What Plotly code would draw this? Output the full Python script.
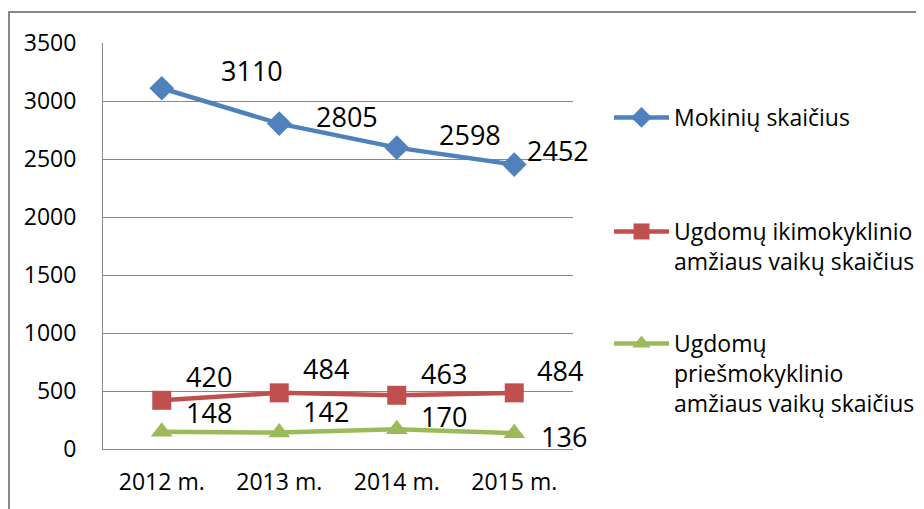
import plotly.graph_objects as go

categories = ["2012 m.", "2013 m.", "2014 m.", "2015 m."]
mokiniai = [3110, 2805, 2598, 2452]
ikimokyklinis = [420, 484, 463, 484]
priesmokyklinis = [148, 142, 170, 136]
y_ticks = [0, 500, 1000, 1500, 2000, 2500, 3000, 3500]

names = ["Mokinių skaičius",
         "Ugdomų ikimokyklinio<br>amžiaus vaikų skaičius",
         "Ugdomų<br>priešmokyklinio<br>amžiaus vaikų skaičius"]
colors = ["#4F81BD", "#C0504D", "#9BBB59"]
symbols = ["diamond", "square", "triangle-up"]
marker_sizes = [19, 19, 19]
series = [mokiniai, ikimokyklinis, priesmokyklinis]
legends = ["legend", "legend2", "legend3"]

# label offsets (pixels: right, up) per series / point
label_offsets = [
    [(90, 18), (68, 7), (73, 13), (44, 14)],
    [(47, 24), (47, 24), (47, 22), (46, 22)],
    [(47, 19), (47, 21), (47, 13), (50, -3)],
]

FONT = "Open Sans, sans-serif"

fig = go.Figure()
for vals, name, col, sym, ms, lg in zip(series, names, colors, symbols, marker_sizes, legends):
    fig.add_trace(go.Scatter(
        x=categories, y=vals, name=name, mode="lines+markers",
        line=dict(color=col, width=4.5),
        marker=dict(symbol=sym, size=ms, color=col),
        legend=lg, hoverinfo="skip",
    ))

annotations = []
for vals, offs in zip(series, label_offsets):
    for c, v, (dx, dy) in zip(categories, vals, offs):
        annotations.append(dict(
            x=c, y=v, text=str(v), showarrow=False,
            xshift=dx, yshift=dy,
            font=dict(family=FONT, size=27, color="#000000"),
        ))

# page body has an 8px margin; the figure is drawn 8px smaller and the
# helpers below map screen pixels to paper coordinates
def px_x(px):
    return (px - 103) / 470

def px_y(py):
    return (449 - py) / 406

shapes = [
    dict(type="line", xref="paper", yref="paper",
         x0=px_x(9), x1=px_x(9), y0=px_y(12), y1=px_y(520),
         line=dict(color="#888888", width=2)),
    dict(type="line", xref="paper", yref="paper",
         x0=px_x(8), x1=px_x(940), y0=px_y(12), y1=px_y(12),
         line=dict(color="#888888", width=2)),
]

legend_common = dict(
    xanchor="left", yanchor="top", valign="top", itemwidth=55,
    font=dict(family=FONT, size=23, color="#000000"),
    bgcolor="rgba(0,0,0,0)", borderwidth=0,
)

fig.update_layout(
    width=916, height=501, autosize=False,
    margin=dict(l=95, r=351, t=35, b=60, autoexpand=False),
    paper_bgcolor="white", plot_bgcolor="white",
    font=dict(family=FONT, size=22, color="#000000"),
    showlegend=True,
    legend=dict(x=px_x(609), y=px_y(96), **legend_common),
    legend2=dict(x=px_x(609), y=px_y(210), **legend_common),
    legend3=dict(x=px_x(609), y=px_y(322), **legend_common),
    annotations=annotations,
    shapes=shapes,
    xaxis=dict(
        type="category", range=[-0.5, 3.5],
        showgrid=False, showline=True, linecolor="#888888", linewidth=1,
        ticks="", ticklabelstandoff=12,
        tickfont=dict(family=FONT, size=23, color="#000000"),
        fixedrange=True,
    ),
    yaxis=dict(
        range=[0, 3500], tickvals=y_ticks,
        showgrid=True, gridcolor="#888888", gridwidth=1,
        showline=True, linecolor="#888888", linewidth=1,
        zeroline=False, ticks="", ticklabelstandoff=21,
        tickfont=dict(family=FONT, size=23, color="#000000"),
        fixedrange=True,
    ),
)

fig.write_html("out.html")
